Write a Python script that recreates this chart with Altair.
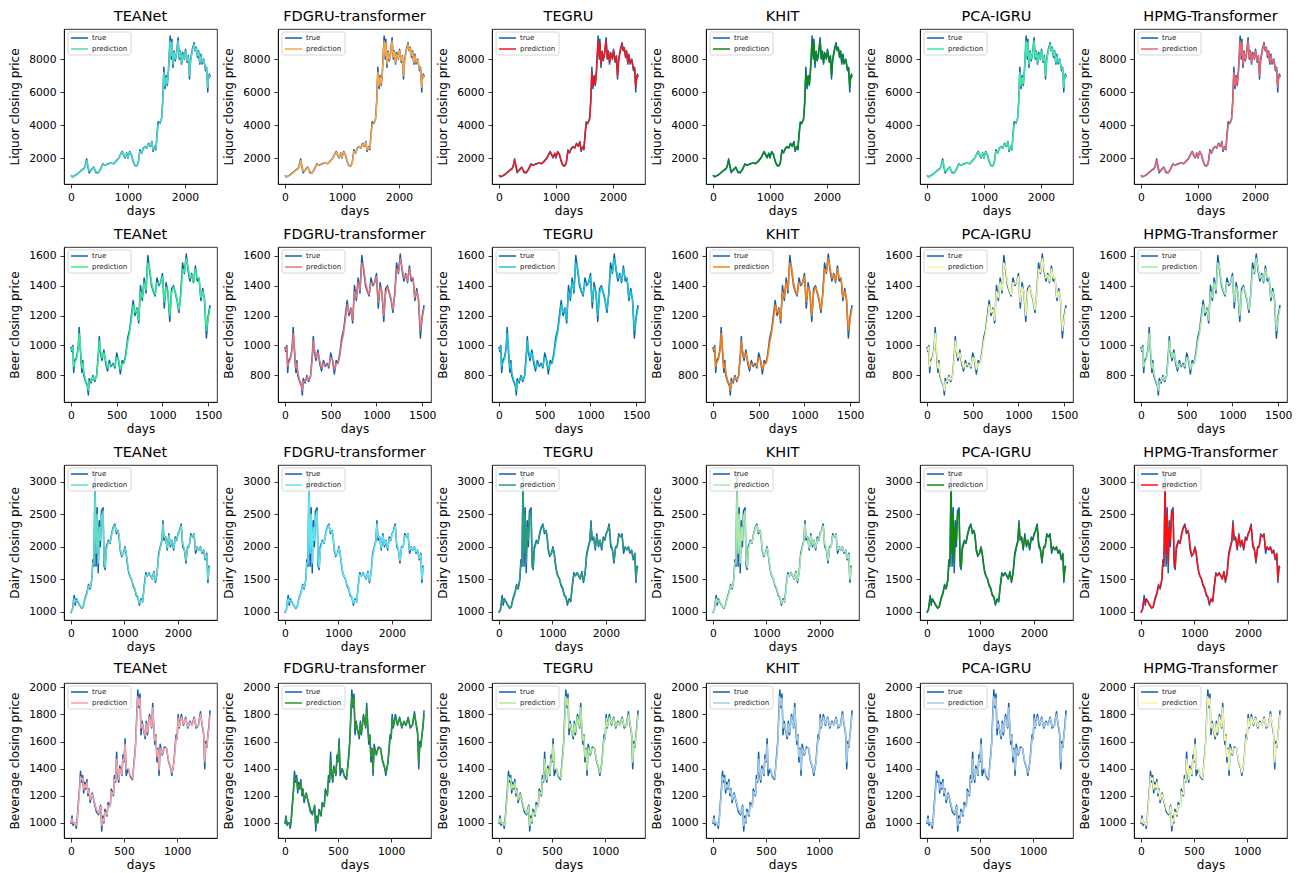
import altair as alt
import pandas as pd

MODELS = ["TEANet", "FDGRU-transformer", "TEGRU", "KHIT", "PCA-IGRU", "HPMG-Transformer"]
DATASETS = ["Liquor", "Beer", "Dairy", "Beverage"]

# ---- Liquor ----
LIQ_X = [0,30,60,100,150,200,230,255,275,295,320,360,400,440,480,520,560,600,650,700,
         750,800,840,880,900,920,950,980,1000,1030,1060,1090,1120,1150,1180,1210,1240,1270,1300,1330,
         1360,1390,1420,1440,1470,1490,1510,1530,1560,1590,1610,1630,1650,1670,1690,1710,1740,1760,1770,1790,
         1810,1830,1850,1880,1900,1920,1940,1960,1990,2010,2040,2060,2080,2100,2130,2160,2180,2200,2220,2240,
         2260,2280,2300,2330,2360,2380,2400,2410,2430,2440]
LIQ_TRUE = [950,850,920,1000,1150,1300,1350,1600,1950,1500,1100,1300,1450,1100,1100,1350,1650,1550,1650,1700,
            1650,1850,2000,2300,2400,2200,2000,2300,2000,2400,2200,1800,1550,1500,1700,2500,2300,2600,2700,2600,
            2900,2700,3000,2400,2700,2500,3500,4200,4100,4400,5500,7500,6200,7000,6400,7300,9400,8000,9200,7500,
            8500,7900,8300,9300,8000,8500,7700,8400,8000,8600,7800,8200,6800,8000,8600,9000,8500,8700,8100,8500,
            7700,8300,7700,8000,7300,7500,6000,6800,7100,6900]
LIQ_PRED = [960,880,900,980,1120,1270,1340,1520,1850,1600,1200,1250,1420,1180,1120,1300,1600,1580,1630,1690,
            1670,1800,1980,2250,2350,2250,2050,2250,2050,2350,2250,1850,1600,1520,1650,2400,2350,2550,2680,2620,
            2850,2750,2950,2500,2650,2550,3300,4000,4150,4350,5300,7200,6400,6900,6500,7200,9100,8200,9000,7700,
            8400,8000,8250,9100,8100,8450,7800,8300,8050,8500,7900,8150,7000,7900,8500,8900,8550,8650,8200,8450,
            7800,8200,7800,7950,7400,7450,6300,6700,7000,6950]

# ---- Beer ----
BEER_X = [0,10,20,30,40,60,70,80,90,100,110,120,130,140,160,180,190,200,220,240,
          260,280,300,310,320,340,360,380,400,420,440,460,480,500,520,540,560,580,600,620,
          640,660,680,700,720,740,760,780,800,820,840,860,880,900,920,940,960,980,1000,1020,
          1040,1060,1080,1100,1120,1140,1160,1180,1200,1220,1240,1260,1280,1300,1320,1340,1360,1380,1400,1420,
          1440,1460,1480,1500,1520]
BEER_TRUE = [990,960,1000,820,900,920,950,1000,1120,1000,900,820,900,800,760,730,670,780,750,800,
             760,800,950,1060,960,900,970,880,830,900,860,880,850,950,900,810,900,880,950,1050,
             1100,1200,1300,1200,1250,1150,1400,1300,1450,1350,1600,1500,1400,1360,1330,1450,1400,1420,1480,1250,
             1420,1350,1160,1380,1400,1350,1300,1220,1350,1550,1480,1610,1500,1430,1480,1420,1530,1430,1450,1300,
             1380,1300,1050,1200,1270]
BEER_PRED = [980,970,990,860,880,910,940,980,1080,1030,930,850,880,820,770,740,700,760,760,790,
             770,790,920,1030,980,920,950,900,850,880,870,870,860,920,910,840,880,880,930,1020,
             1080,1170,1270,1220,1240,1170,1360,1320,1420,1370,1550,1520,1420,1370,1340,1420,1410,1420,1460,1290,
             1390,1360,1200,1350,1390,1360,1310,1240,1330,1510,1490,1580,1520,1450,1470,1430,1510,1450,1450,1320,
             1360,1310,1100,1180,1250]

# ---- Dairy ----
DAIRY_X = [0,30,60,80,100,130,160,200,230,260,300,330,360,390,410,430,450,470,490,510,
           530,550,570,600,620,640,660,700,730,760,790,820,850,880,900,920,950,980,1010,1030,
           1060,1080,1100,1130,1160,1190,1220,1250,1280,1310,1340,1370,1400,1430,1460,1490,1520,1550,1580,1610,
           1640,1670,1700,1720,1740,1770,1800,1830,1860,1890,1920,1950,1980,2000,2030,2060,2090,2120,2150,2180,
           2210,2240,2270,2300,2330,2360,2390,2420,2450,2480,2510,2540,2560,2580,2600]
DAIRY_TRUE = [980,1050,1250,1100,1200,1150,1100,1050,1080,1200,1300,1420,1350,1500,1800,1700,3150,1700,2600,1600,
              2400,2000,2550,2600,1700,1650,2000,2100,2050,2200,2300,2350,2200,2250,2150,1950,1850,1900,2000,1900,
              1700,1600,1550,1500,1400,1350,1250,1220,1100,1200,1150,1400,1600,1550,1600,1550,1500,1620,1450,1600,
              1900,2000,2100,2400,2100,2150,1950,2200,2000,2100,1950,2150,2100,2200,2250,2350,2000,1950,1750,2000,
              2000,2200,2150,2200,1900,2000,1950,2000,1900,1950,1800,1900,1450,1700,1700]
DAIRY_PRED = [990,1030,1200,1150,1180,1160,1110,1060,1070,1180,1280,1400,1370,1480,1750,1750,2900,1900,2500,1750,
              2300,2100,2450,2550,1800,1680,1950,2080,2060,2180,2280,2330,2230,2240,2170,1980,1870,1890,1980,1920,
              1730,1620,1560,1510,1420,1370,1270,1230,1130,1180,1160,1370,1570,1560,1590,1560,1510,1600,1480,1580,
              1850,1980,2080,2350,2150,2140,1980,2170,2030,2090,1980,2120,2110,2180,2240,2320,2050,1970,1790,1970,
              2010,2170,2160,2190,1950,1990,1960,1990,1920,1940,1820,1880,1500,1670,1690]

# ---- Beverage ----
BEV_X = [0,10,20,30,40,50,60,70,80,90,100,110,120,130,140,150,160,170,180,200,
         220,240,260,270,280,290,300,310,320,340,350,370,380,400,410,420,430,440,450,460,
         480,490,500,510,520,540,560,580,600,610,620,630,640,650,660,670,680,700,710,720,
         740,760,770,780,790,800,810,820,830,840,860,880,900,920,940,950,970,990,1000,1010,
         1020,1040,1060,1080,1100,1120,1140,1160,1180,1200,1220,1230,1250,1260,1270,1280,1290,1300,1310]
BEV_TRUE = [990,1050,980,1000,1000,960,1040,1150,1250,1380,1300,1350,1220,1300,1250,1320,1200,1250,1150,1220,
            1150,1080,1060,1100,1130,940,1050,1000,1100,1050,1150,1120,1250,1200,1350,1300,1520,1350,1300,1420,
            1350,1500,1450,1620,1350,1400,1340,1320,1500,1600,1800,1980,1850,1950,1650,1750,1700,1620,1750,1650,
            1800,1700,1880,1700,1580,1650,1450,1550,1350,1580,1500,1560,1550,1450,1400,1350,1450,1650,1620,1800,
            1700,1800,1720,1780,1700,1750,1720,1780,1700,1720,1820,1750,1650,1400,1600,1560,1650,1720,1830]
BEV_PRED = [1000,1030,1000,995,1000,980,1020,1120,1220,1340,1320,1330,1250,1280,1260,1300,1220,1240,1170,1210,
            1160,1100,1070,1090,1120,980,1030,1010,1080,1060,1130,1120,1230,1210,1320,1310,1470,1380,1320,1400,
            1360,1470,1460,1580,1400,1400,1350,1330,1470,1580,1760,1930,1870,1920,1700,1730,1700,1640,1730,1670,
            1780,1710,1850,1720,1610,1640,1490,1540,1390,1550,1510,1550,1550,1460,1410,1370,1440,1620,1630,1770,
            1710,1780,1730,1770,1710,1740,1720,1770,1710,1720,1800,1760,1670,1450,1580,1570,1640,1700,1800]

SERIES = {
    "Liquor": (LIQ_X, LIQ_TRUE, LIQ_PRED),
    "Beer": (BEER_X, BEER_TRUE, BEER_PRED),
    "Dairy": (DAIRY_X, DAIRY_TRUE, DAIRY_PRED),
    "Beverage": (BEV_X, BEV_TRUE, BEV_PRED),
}
X_TICKS = {"Liquor": [0, 1000, 2000], "Beer": [0, 500, 1000, 1500],
           "Dairy": [0, 1000, 2000], "Beverage": [0, 500, 1000]}
Y_TICKS = {"Liquor": [2000, 4000, 6000, 8000], "Beer": [800, 1000, 1200, 1400, 1600],
           "Dairy": [1000, 1500, 2000, 2500, 3000], "Beverage": [1000, 1200, 1400, 1600, 1800, 2000]}

TRUE_COLOR = "#0f5fae"
PRED_COLORS = {
    "Liquor":   ["#4fd8c4", "#ffa23a", "#f01818", "#0a8a1a", "#3ee8a8", "#f5606a"],
    "Beer":     ["#34ec8c", "#ea7474", "#1fc4d0", "#ff7f0e", "#f2f59a", "#a6e8a6"],
    "Dairy":    ["#60dcc8", "#60e4f0", "#2a9d80", "#a8eaa8", "#128a12", "#ff1010"],
    "Beverage": ["#ffa0a0", "#2a9a2a", "#b8e890", "#a8cce8", "#a8c8e8", "#f6f6a6"],
}

W, H = 153, 155


def padded(lo, hi):
    m = 0.05 * (hi - lo)
    return [lo - m, hi + m]


def panel(ds, mi):
    xs, tv, pv = SERIES[ds]
    tdf = pd.DataFrame({"day": xs, "value": tv})
    pdf = pd.DataFrame({"day": xs, "value": pv})
    xdom = padded(min(xs), max(xs))
    ydom = padded(min(tv + pv), max(tv + pv))
    xenc = alt.X("day:Q", scale=alt.Scale(domain=xdom, nice=False, zero=False),
                 axis=alt.Axis(values=X_TICKS[ds], title="days", format="d"))
    yenc = alt.Y("value:Q", scale=alt.Scale(domain=ydom, nice=False, zero=False),
                 axis=alt.Axis(values=Y_TICKS[ds], title=f"{ds} closing price", format="d"))
    pc = PRED_COLORS[ds][mi]
    true_line = alt.Chart(tdf).mark_line(color=TRUE_COLOR, strokeWidth=1.5, strokeJoin="round").encode(x=xenc, y=yenc)
    pred_line = alt.Chart(pdf).mark_line(color=pc, strokeWidth=1.5, strokeJoin="round").encode(x=xenc, y=yenc)
    one = pd.DataFrame({"k": [0]})
    box = alt.Chart(one).mark_rect(fill="white", fillOpacity=0.8, stroke="#cccccc", strokeWidth=0.8,
                                   cornerRadius=2).encode(
        x=alt.value(4), x2=alt.value(67), y=alt.value(3), y2=alt.value(26))
    l1 = alt.Chart(one).mark_rule(color=TRUE_COLOR, strokeWidth=1.5).encode(
        x=alt.value(7), x2=alt.value(24), y=alt.value(9))
    l2 = alt.Chart(one).mark_rule(color=pc, strokeWidth=1.5).encode(
        x=alt.value(7), x2=alt.value(24), y=alt.value(20))
    t1 = alt.Chart(one).mark_text(align="left", baseline="middle", fontSize=7, font="DejaVu Sans",
                                  color="#222222").encode(x=alt.value(28), y=alt.value(9), text=alt.value("true"))
    t2 = alt.Chart(one).mark_text(align="left", baseline="middle", fontSize=7, font="DejaVu Sans",
                                  color="#222222").encode(x=alt.value(28), y=alt.value(20), text=alt.value("prediction"))
    return alt.layer(true_line, pred_line, box, l1, l2, t1, t2).properties(
        width=W, height=H, title=MODELS[mi])


panels = [panel(ds, mi) for ds in DATASETS for mi in range(len(MODELS))]

chart = alt.concat(*panels, columns=6, spacing={"row": 63, "column": 61}, bounds="flush").properties(
    padding={"left": 0, "top": 0, "right": 0, "bottom": 0}
).configure_view(stroke="black", strokeWidth=0.8).configure_axis(
    grid=False, domainColor="black", domainWidth=0.8, tickColor="black", tickWidth=0.8, tickSize=4,
    labelFont="DejaVu Sans", labelFontSize=10.75, labelColor="black", labelPadding=4, labelFlush=False,
    titleFont="DejaVu Sans", titleFontSize=12, titleFontWeight="normal", titleColor="black", titlePadding=7,
).configure_axisX(titlePadding=4).configure_title(
    font="DejaVu Sans", fontSize=14.5, fontWeight="normal", color="black", offset=5, anchor="middle"
)

chart.save("out.html", embed_options={"renderer": "svg", "actions": False})
